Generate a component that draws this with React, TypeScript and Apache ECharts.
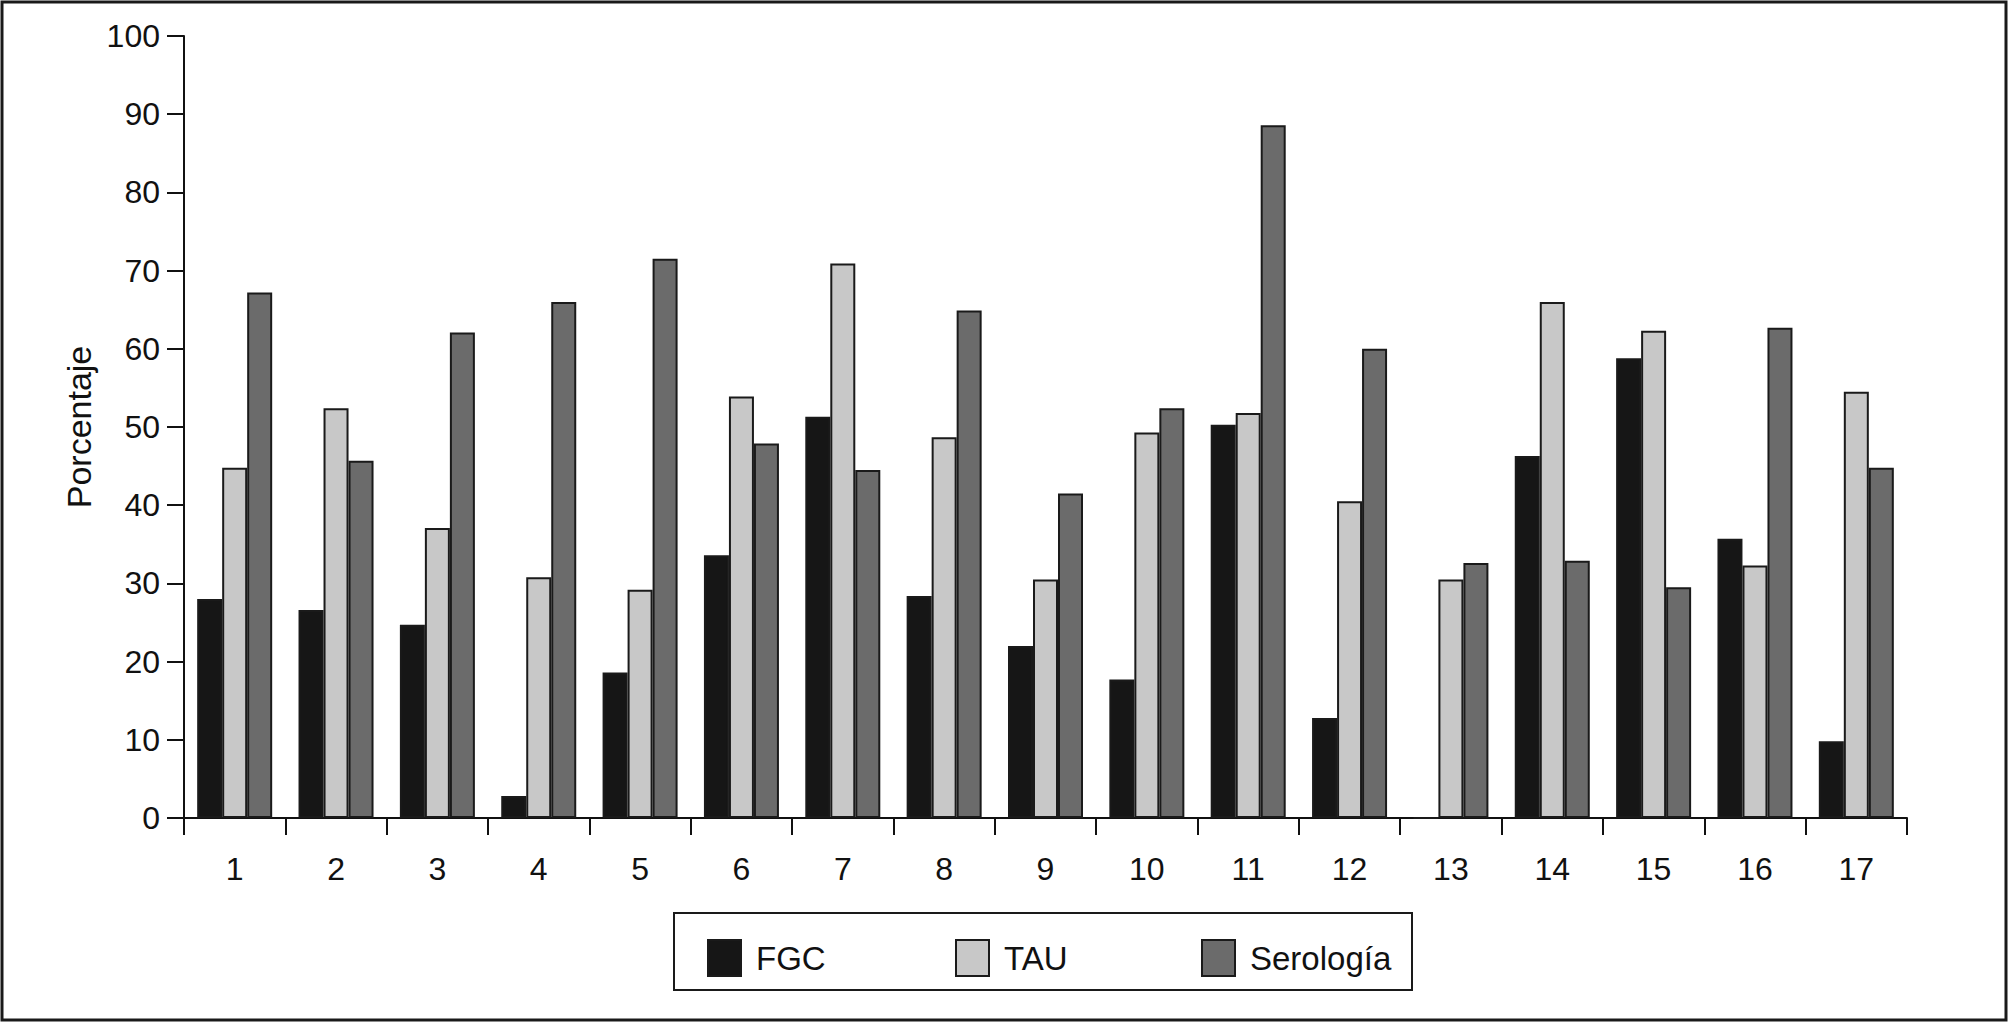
import React, { useEffect, useRef } from "react";
import * as echarts from "echarts";

const categories = ["1","2","3","4","5","6","7","8","9","10","11","12","13","14","15","16","17"];
const fgc = [28.0, 26.6, 24.7, 2.8, 18.6, 33.6, 51.3, 28.4, 22.0, 17.7, 50.3, 12.8, 0, 46.3, 58.8, 35.7, 9.8];
const tau = [44.8, 52.4, 37.1, 30.8, 29.2, 53.9, 70.9, 48.7, 30.5, 49.3, 51.8, 40.5, 30.5, 66.0, 62.3, 32.3, 54.5];
const serologia = [67.2, 45.7, 62.1, 66.0, 71.5, 47.9, 44.5, 64.9, 41.5, 52.4, 88.6, 60.0, 32.6, 32.9, 29.5, 62.7, 44.8];
const seriesNames = ["FGC", "TAU", "Serología"];
const seriesColors = ["#161616", "#c8c8c8", "#6b6b6b"];
const yTicks = { min: 0, max: 100, interval: 10 };

const FONT = "Liberation Sans, Arial, Helvetica, sans-serif";

export default function App() {
  const ref = useRef<HTMLDivElement>(null);
  useEffect(() => {
    if (!ref.current) return;
    const chart = echarts.init(ref.current, undefined, { renderer: "svg" });
    const data = [fgc, tau, serologia];
    const legendLefts = [702, 950, 1196];
    chart.setOption({
      animation: false,
      backgroundColor: "#ffffff",
      textStyle: { fontFamily: FONT },
      grid: { left: 184, right: 102, top: 36, bottom: 205, containLabel: false },
      xAxis: {
        type: "category",
        data: categories,
        boundaryGap: true,
        axisLine: { show: true, lineStyle: { color: "#111", width: 2 } },
        axisTick: { show: true, length: 17, lineStyle: { color: "#111", width: 2 } },
        axisLabel: { color: "#111", fontSize: 32, margin: 35, fontFamily: FONT },
        splitLine: { show: false },
      },
      yAxis: {
        type: "value",
        min: yTicks.min,
        max: yTicks.max,
        interval: yTicks.interval,
        name: "Porcentaje",
        nameLocation: "middle",
        nameGap: 82,
        nameTextStyle: { color: "#111", fontSize: 34, fontFamily: FONT },
        axisLine: { show: true, lineStyle: { color: "#111", width: 2 } },
        axisTick: { show: true, length: 17, lineStyle: { color: "#111", width: 2 } },
        axisLabel: { color: "#111", fontSize: 32, margin: 24, fontFamily: FONT },
        splitLine: { show: false },
      },
      legend: seriesNames.map((n, i) => ({
        data: [n],
        left: legendLefts[i],
        top: 934,
        itemWidth: 33,
        itemHeight: 36,
        icon: "rect",
        selectedMode: false,
        itemStyle: { borderColor: "#1a1a1a", borderWidth: 2 },
        textStyle: { color: "#111", fontSize: 33, fontFamily: FONT, padding: [0, 0, 0, 10] },
      })),
      series: seriesNames.map((n, i) => ({
        name: n,
        type: "bar",
        data: data[i],
        barWidth: 25,
        barGap: "0%",
        itemStyle: { color: seriesColors[i], borderColor: "#1a1a1a", borderWidth: 2 },
      })),
      graphic: [
        {
          type: "rect",
          shape: { x: 2, y: 2, width: 2004, height: 1018 },
          style: { fill: "none", stroke: "#1a1a1a", lineWidth: 3 },
          silent: true,
        },
        {
          type: "rect",
          shape: { x: 674, y: 913, width: 738, height: 77 },
          style: { fill: "none", stroke: "#1a1a1a", lineWidth: 2 },
          silent: true,
        },
      ],
    });
    return () => chart.dispose();
  }, []);
  return (
    <div
      ref={ref}
      style={{ position: "absolute", left: 0, top: 0, width: 2009, height: 1023 }}
    />
  );
}
